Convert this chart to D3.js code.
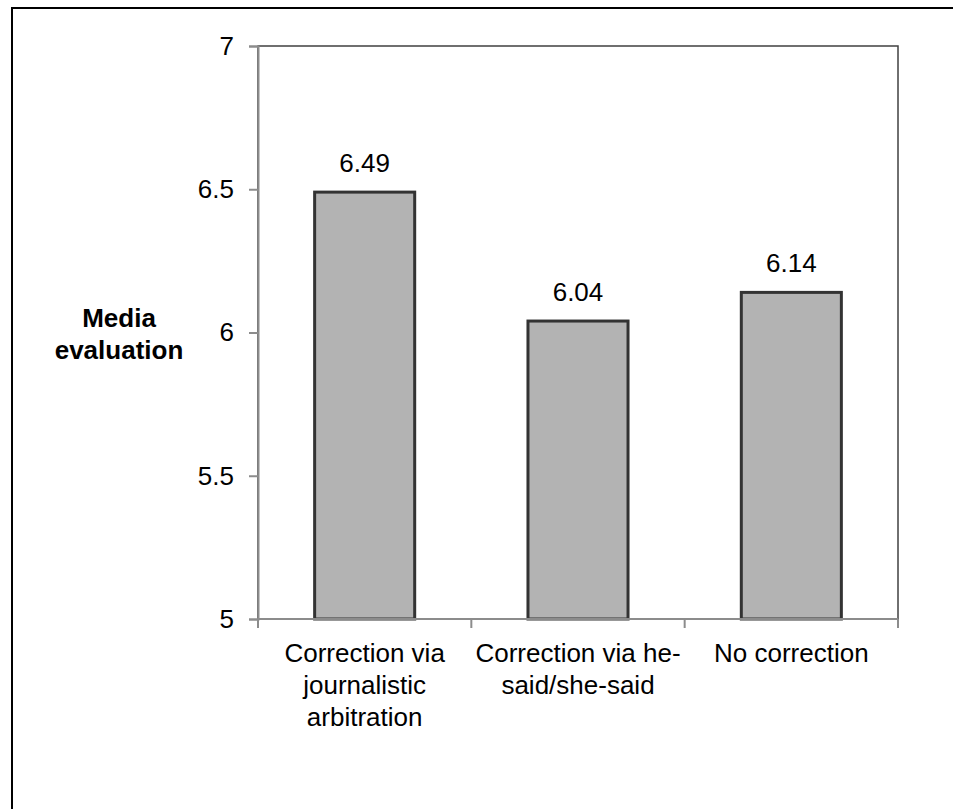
<!DOCTYPE html>
<html>
<head>
<meta charset="utf-8">
<script src="https://cdn.jsdelivr.net/npm/d3@7"></script>
<style>
  html, body { margin: 0; padding: 0; background: #fff; }
  svg { display: block; }
  text { font-family: Arial, "Liberation Sans", Helvetica, sans-serif; fill: #000; }
</style>
</head>
<body>
<svg id="chart" width="953" height="809"></svg>
<script>
// ---- data ----
const categories = ["Correction via journalistic arbitration", "Correction via he-said/she-said", "No correction"];
const categoryLines = [["Correction via", "journalistic", "arbitration"], ["Correction via he-", "said/she-said"], ["No correction"]];
const values = [6.49, 6.04, 6.14];
const valueLabels = ["6.49", "6.04", "6.14"];
const yTicks = [5, 5.5, 6, 6.5, 7];
const yTickLabels = ["5", "5.5", "6", "6.5", "7"];
const yTitleLines = ["Media", "evaluation"];

// ---- layout ----
const svg = d3.select("#chart");
const plot = { left: 258, right: 898, top: 46, bottom: 619 };
const fontSize = 26;

// outer frame
svg.append("rect")
  .attr("x", 12).attr("y", 8)
  .attr("width", 1000).attr("height", 900)
  .attr("fill", "none").attr("stroke", "#000").attr("stroke-width", 2);

const x = d3.scaleBand()
  .domain(categories)
  .range([plot.left, plot.right])
  .paddingInner(0.531)
  .paddingOuter(0.2655);

const y = d3.scaleLinear().domain([5, 7]).range([plot.bottom, plot.top]);

// plot area border
svg.append("rect")
  .attr("x", plot.left).attr("y", plot.top)
  .attr("width", plot.right - plot.left).attr("height", plot.bottom - plot.top)
  .attr("fill", "none").attr("stroke", "#404040").attr("stroke-width", 1.5);

// bars
svg.append("g").selectAll("rect")
  .data(values)
  .join("rect")
  .attr("x", (d, i) => x(categories[i]))
  .attr("y", d => y(d))
  .attr("width", x.bandwidth())
  .attr("height", d => y(5) - y(d))
  .attr("fill", "#b3b3b3")
  .attr("stroke", "#333333")
  .attr("stroke-width", 3);

// y axis
const yAxis = d3.axisLeft(y)
  .tickValues(yTicks)
  .tickFormat((d, i) => yTickLabels[i])
  .tickSize(9)
  .tickPadding(15);
const gy = svg.append("g").attr("transform", `translate(${plot.left},0)`).call(yAxis);
gy.select(".domain").attr("stroke", "#8c8c8c").attr("stroke-width", 2);
gy.selectAll(".tick line").attr("stroke", "#8c8c8c").attr("stroke-width", 2);
gy.selectAll(".tick text")
  .attr("font-size", fontSize)
  .attr("font-family", "Arial, 'Liberation Sans', sans-serif")
  .attr("fill", "#000");

// x axis (line with ticks at category boundaries)
const boundaries = [plot.left].concat(categories.map(c => x(c) + x.bandwidth() / 2 + x.step() / 2));
const gx = svg.append("g");
gx.append("line")
  .attr("x1", plot.left).attr("x2", plot.right)
  .attr("y1", plot.bottom).attr("y2", plot.bottom)
  .attr("stroke", "#8c8c8c").attr("stroke-width", 2);
gx.selectAll("line.tk")
  .data(boundaries)
  .join("line")
  .attr("class", "tk")
  .attr("x1", d => d).attr("x2", d => d)
  .attr("y1", plot.bottom).attr("y2", plot.bottom + 9)
  .attr("stroke", "#8c8c8c").attr("stroke-width", 2);

// category labels
const catG = svg.append("g");
categories.forEach((c, i) => {
  const t = catG.append("text")
    .attr("x", x(c) + x.bandwidth() / 2)
    .attr("y", 662)
    .attr("text-anchor", "middle")
    .attr("font-size", fontSize);
  categoryLines[i].forEach((ln, j) => {
    t.append("tspan")
      .attr("x", x(c) + x.bandwidth() / 2)
      .attr("dy", j === 0 ? 0 : 32)
      .text(ln);
  });
});

// value labels
svg.append("g").selectAll("text")
  .data(values)
  .join("text")
  .attr("x", (d, i) => x(categories[i]) + x.bandwidth() / 2)
  .attr("y", d => y(d) - 20)
  .attr("text-anchor", "middle")
  .attr("font-size", fontSize)
  .text((d, i) => valueLabels[i]);

// y title
const yt = svg.append("text")
  .attr("x", 119).attr("y", 327)
  .attr("text-anchor", "middle")
  .attr("font-size", fontSize)
  .attr("font-weight", "bold");
yTitleLines.forEach((ln, j) => {
  yt.append("tspan").attr("x", 119).attr("dy", j === 0 ? 0 : 32).text(ln);
});
</script>
</body>
</html>
